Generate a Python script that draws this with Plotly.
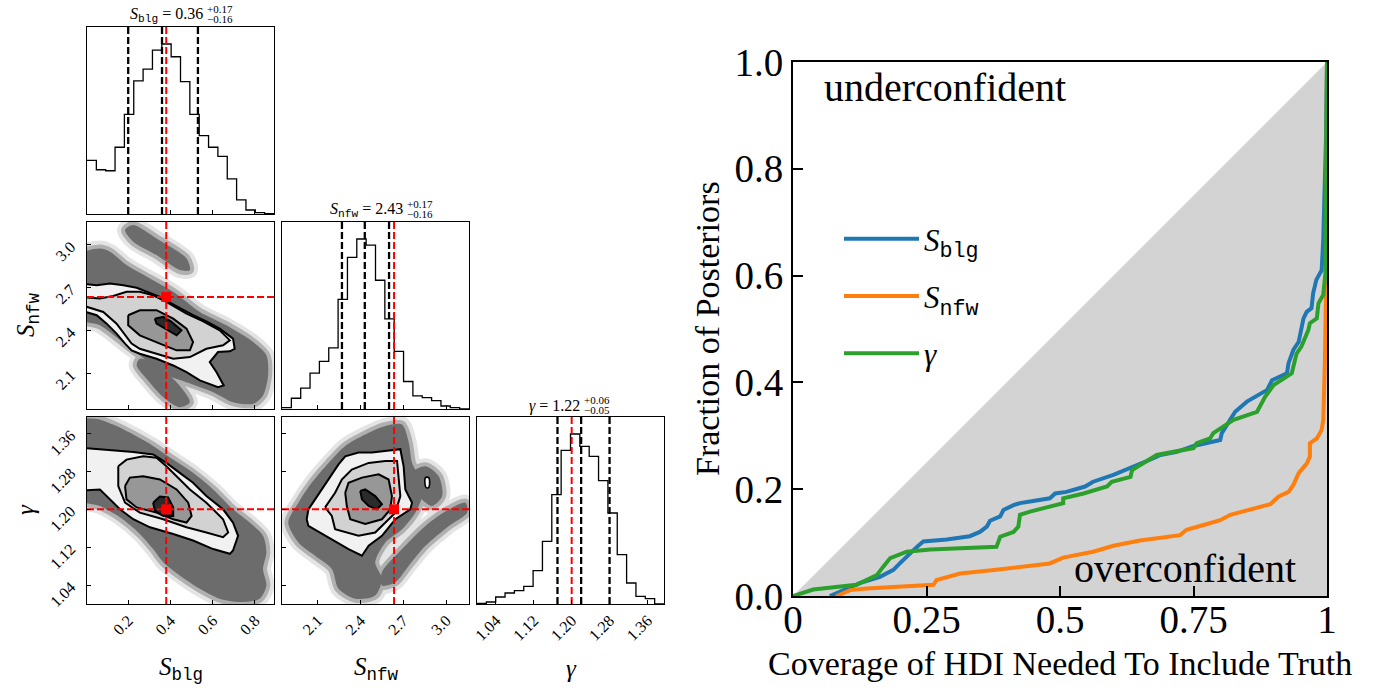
import numpy as np
import plotly.graph_objects as go

W, H = 1385, 690
OFF = 0
SERIF = "Liberation Serif"
MONO = "Liberation Mono"

# ---------------- corner plot data ----------------
RANGE_BLG = [0.005, 0.89]
RANGE_NFW = [1.85, 3.16]
RANGE_GAM = [1.0, 1.395]

ticks_blg = [0.2, 0.4, 0.6, 0.8]
ticks_nfw = [2.1, 2.4, 2.7, 3.0]
ticks_gam = [1.04, 1.12, 1.20, 1.28, 1.36]

hist_blg = [160, 132, 129, 199, 297, 397, 432, 489, 507, 469, 395, 297, 234, 199, 172, 105, 42, 12, 4, 1]
hist_nfw = [4, 32, 62, 107, 142, 182, 327, 452, 507, 489, 384, 269, 172, 82, 39, 34, 25, 9, 4, 0]
hist_gam = [2, 6, 21, 33, 40, 53, 100, 188, 328, 461, 510, 473, 443, 370, 273, 148, 63, 23, 16, 0]

q_blg = [0.20, 0.36, 0.53]
q_nfw = [2.27, 2.43, 2.60]
q_gam = [1.17, 1.22, 1.28]

truth_blg = 0.38
truth_nfw = 2.635
truth_gam = 1.20

# 2D panel: S_blg vs S_nfw (sample clouds and credible contours)
cloudB_top_x = [0.185, 0.224, 0.334, 0.476, 0.492, 0.444, 0.334, 0.224]
cloudB_top_y = [3.104, 3.139, 3.045, 2.905, 2.823, 2.823, 2.928, 3.022]
cloudB_main_x = [-0.03, 0.066, 0.114, 0.192, 0.303, 0.413, 0.539, 0.665, 0.791, 0.854, 0.862, 0.838, 0.791,
                 0.696, 0.602, 0.476, 0.350, 0.255, 0.192, 0.066, -0.03]
cloudB_main_y = [2.928, 2.975, 2.952, 2.858, 2.764, 2.671, 2.530, 2.436, 2.319, 2.226, 2.085, 1.945, 1.886,
                 1.898, 1.968, 2.038, 2.108, 2.226, 2.296, 2.436, 2.483]
cloudB_low_x = [0.255, 0.334, 0.429, 0.492, 0.444, 0.366, 0.287, 0.240]
cloudB_low_y = [2.202, 2.155, 2.038, 1.898, 1.863, 1.933, 2.062, 2.155]

levB1_x = [-0.03, 0.051, 0.114, 0.177, 0.240, 0.295, 0.350, 0.397, 0.452, 0.507, 0.570, 0.633, 0.696, 0.704,
           0.681, 0.625, 0.586, 0.618, 0.652, 0.625, 0.539, 0.476, 0.413, 0.334, 0.255, 0.216, 0.185, 0.145,
           0.098, 0.051, -0.03]
levB1_y = [2.729, 2.717, 2.729, 2.717, 2.699, 2.666, 2.635, 2.596, 2.549, 2.507, 2.464, 2.413, 2.343, 2.272,
           2.254, 2.249, 2.179, 2.108, 2.015, 2.003, 2.050, 2.108, 2.155, 2.202, 2.237, 2.261, 2.308, 2.378,
           2.448, 2.507, 2.542]
levB2_x = [-0.03, 0.066, 0.129, 0.192, 0.255, 0.318, 0.366, 0.413, 0.476, 0.555, 0.633, 0.681, 0.649, 0.570,
           0.492, 0.413, 0.334, 0.255, 0.216, 0.185, 0.145, 0.082, -0.03]
levB2_y = [2.635, 2.624, 2.642, 2.671, 2.671, 2.647, 2.612, 2.572, 2.518, 2.464, 2.401, 2.331, 2.296, 2.272,
           2.214, 2.202, 2.237, 2.272, 2.308, 2.366, 2.448, 2.530, 2.582]
levB3_x = [0.200, 0.255, 0.334, 0.413, 0.476, 0.507, 0.492, 0.429, 0.350, 0.255, 0.200]
levB3_y = [2.507, 2.542, 2.542, 2.483, 2.413, 2.319, 2.261, 2.261, 2.308, 2.366, 2.436]
levB4_x = [0.326, 0.366, 0.405, 0.452, 0.429, 0.389, 0.334]
levB4_y = [2.483, 2.495, 2.460, 2.401, 2.366, 2.401, 2.448]

# 2D panel: S_blg vs gamma
cloudD_x = [-0.03, 0.051, 0.129, 0.224, 0.318, 0.413, 0.507, 0.602, 0.696, 0.775, 0.838, 0.854, 0.838, 0.854,
            0.822, 0.728, 0.633, 0.539, 0.444, 0.366, 0.318, 0.255, 0.161, 0.066, -0.03]
cloudD_y = [1.386, 1.391, 1.379, 1.358, 1.334, 1.305, 1.277, 1.242, 1.200, 1.172, 1.144, 1.109, 1.074, 1.039,
            1.011, 1.004, 1.011, 1.032, 1.060, 1.088, 1.116, 1.148, 1.183, 1.207, 1.221]
levD1_x = [-0.03, 0.066, 0.145, 0.224, 0.318, 0.381, 0.444, 0.507, 0.570, 0.649, 0.696, 0.720, 0.696, 0.681,
           0.602, 0.507, 0.413, 0.303, 0.224, 0.161, 0.114, 0.066, -0.03]
levD1_y = [1.330, 1.327, 1.323, 1.321, 1.316, 1.298, 1.277, 1.256, 1.228, 1.200, 1.172, 1.144, 1.113, 1.106,
           1.116, 1.134, 1.148, 1.162, 1.179, 1.200, 1.221, 1.242, 1.239]
levD2_x = [0.153, 0.192, 0.271, 0.334, 0.381, 0.429, 0.492, 0.570, 0.649, 0.673, 0.649, 0.570, 0.476, 0.366,
           0.255, 0.185, 0.153]
levD2_y = [1.291, 1.305, 1.312, 1.309, 1.291, 1.270, 1.242, 1.214, 1.179, 1.151, 1.141, 1.151, 1.162, 1.179,
           1.193, 1.214, 1.249]
levD3_x = [0.185, 0.208, 0.271, 0.350, 0.429, 0.484, 0.500, 0.476, 0.413, 0.334, 0.240, 0.192]
levD3_y = [1.249, 1.267, 1.270, 1.263, 1.242, 1.214, 1.186, 1.172, 1.179, 1.193, 1.204, 1.221]
levD4_x = [0.318, 0.350, 0.389, 0.413, 0.413, 0.366, 0.326]
levD4_y = [1.214, 1.227, 1.225, 1.204, 1.186, 1.186, 1.197]

# 2D panel: S_nfw vs gamma
cloudE_main_x = [1.894, 1.965, 2.058, 2.176, 2.293, 2.433, 2.574, 2.691, 2.738, 2.761, 2.808, 2.831, 2.784,
                 2.691, 2.574, 2.503, 2.550, 2.503, 2.363, 2.246, 2.199, 2.082, 1.965]
cloudE_main_y = [1.172, 1.214, 1.256, 1.298, 1.334, 1.358, 1.376, 1.379, 1.341, 1.298, 1.270, 1.228, 1.193,
                 1.158, 1.130, 1.088, 1.053, 1.018, 1.011, 1.032, 1.074, 1.102, 1.130]
cloudE_r1_x = [2.761, 2.855, 2.948, 2.972, 2.902, 2.808]
cloudE_r1_y = [1.277, 1.291, 1.270, 1.228, 1.207, 1.228]
cloudE_r2_x = [2.550, 2.691, 2.855, 3.019, 3.136, 3.147, 3.019, 2.855, 2.738, 2.644, 2.550]
cloudE_r2_y = [1.067, 1.116, 1.165, 1.200, 1.214, 1.193, 1.165, 1.123, 1.081, 1.046, 1.039]
levE1_x = [2.035, 2.129, 2.246, 2.293, 2.386, 2.480, 2.574, 2.679, 2.702, 2.714, 2.761, 2.749, 2.644, 2.550,
           2.457, 2.410, 2.316, 2.152, 2.035, 2.023]
levE1_y = [1.200, 1.242, 1.295, 1.312, 1.320, 1.320, 1.323, 1.327, 1.291, 1.242, 1.214, 1.200, 1.179, 1.144,
           1.123, 1.102, 1.116, 1.144, 1.165, 1.179]
levE2_x = [2.152, 2.222, 2.269, 2.339, 2.457, 2.574, 2.656, 2.667, 2.679, 2.644, 2.574, 2.503, 2.386, 2.222, 2.199]
levE2_y = [1.204, 1.235, 1.263, 1.284, 1.298, 1.302, 1.302, 1.270, 1.228, 1.193, 1.172, 1.151, 1.144, 1.158, 1.186]
levE3_x = [2.293, 2.316, 2.410, 2.527, 2.597, 2.620, 2.609, 2.550, 2.433, 2.328, 2.304]
levE3_y = [1.235, 1.256, 1.267, 1.274, 1.263, 1.228, 1.200, 1.179, 1.169, 1.179, 1.207]
levE4_x = [2.398, 2.433, 2.503, 2.550, 2.515, 2.457, 2.410]
levE4_y = [1.239, 1.242, 1.228, 1.211, 1.200, 1.207, 1.221]
islandE_x = [2.855, 2.878, 2.878, 2.859]
islandE_y = [1.267, 1.267, 1.246, 1.246]

# ---------------- coverage plot data ----------------
cov_ticks_x = [0, 0.25, 0.5, 0.75, 1]
cov_ticktext_x = ["0", "0.25", "0.5", "0.75", "1"]
cov_ticks_y = [0, 0.2, 0.4, 0.6, 0.8, 1.0]

blg_x = [0.069, 0.088, 0.125, 0.163, 0.188, 0.200, 0.213, 0.232, 0.244, 0.288, 0.331, 0.350, 0.363, 0.369,
         0.388, 0.394, 0.413, 0.425, 0.444, 0.481, 0.491, 0.512, 0.547, 0.562, 0.600, 0.638, 0.675, 0.688,
         0.719, 0.750, 0.800, 0.803, 0.828, 0.850, 0.869, 0.888, 0.897, 0.925, 0.928, 0.937, 0.947, 0.956,
         0.962, 0.971, 0.974, 0.980, 0.990, 0.993, 0.995, 0.998, 1.000]
blg_y = [0.000, 0.008, 0.024, 0.036, 0.049, 0.061, 0.074, 0.092, 0.102, 0.106, 0.112, 0.120, 0.130, 0.141,
         0.149, 0.161, 0.170, 0.174, 0.177, 0.183, 0.192, 0.195, 0.205, 0.214, 0.227, 0.242, 0.258, 0.264,
         0.270, 0.281, 0.292, 0.305, 0.345, 0.364, 0.376, 0.386, 0.404, 0.417, 0.436, 0.461, 0.476, 0.520,
         0.532, 0.539, 0.567, 0.592, 0.610, 0.667, 0.742, 0.850, 1.000]
nfw_x = [0.082, 0.107, 0.138, 0.263, 0.269, 0.288, 0.313, 0.381, 0.425, 0.481, 0.506, 0.562, 0.600, 0.650,
         0.725, 0.737, 0.769, 0.800, 0.819, 0.850, 0.894, 0.909, 0.928, 0.937, 0.947, 0.962, 0.968, 0.968,
         0.981, 0.990, 0.993, 0.996, 0.998, 1.000]
nfw_y = [0.000, 0.011, 0.014, 0.021, 0.030, 0.036, 0.042, 0.049, 0.055, 0.061, 0.072, 0.083, 0.094, 0.104,
         0.114, 0.124, 0.133, 0.142, 0.152, 0.161, 0.172, 0.186, 0.195, 0.208, 0.230, 0.248, 0.261, 0.286,
         0.295, 0.311, 0.330, 0.436, 0.560, 1.000]
gam_x = [0.000, 0.038, 0.119, 0.157, 0.169, 0.182, 0.213, 0.257, 0.381, 0.388, 0.413, 0.422, 0.425, 0.444,
         0.506, 0.506, 0.544, 0.588, 0.597, 0.632, 0.635, 0.656, 0.681, 0.750, 0.756, 0.781, 0.787, 0.825,
         0.869, 0.884, 0.900, 0.934, 0.940, 0.943, 0.952, 0.965, 0.968, 0.981, 0.984, 0.993, 0.997, 1.000]
gam_y = [0.000, 0.012, 0.021, 0.039, 0.055, 0.071, 0.083, 0.087, 0.092, 0.111, 0.120, 0.130, 0.152, 0.158,
         0.174, 0.183, 0.192, 0.205, 0.214, 0.223, 0.236, 0.248, 0.264, 0.277, 0.286, 0.295, 0.305, 0.330,
         0.345, 0.373, 0.395, 0.417, 0.442, 0.454, 0.467, 0.498, 0.511, 0.520, 0.548, 0.564, 0.604, 1.000]

# ---------------- figure ----------------
fig = go.Figure()


def sym(sub):
    return f'<i>S</i><sub><span style="font-family:{MONO}">{sub}</span></sub>'


def trace(x, y, ax, ay, **kw):
    fig.add_trace(go.Scatter(x=list(x), y=list(y), xaxis=ax, yaxis=ay, showlegend=False,
                             hoverinfo='skip', **kw))


def closed(xs, ys):
    return list(xs) + [xs[0]], list(ys) + [ys[0]]


DASH = '7px,3px'


def add_hist(counts, rng, quants, truth, ax, ay):
    edges = np.linspace(rng[0], rng[1], len(counts) + 1)
    top = 1.1 * max(counts)
    trace(edges, list(counts) + [counts[-1]], ax, ay, mode='lines',
          line=dict(color='black', width=1.3, shape='hv'))
    for q in quants:
        trace([q, q], [0, top], ax, ay, mode='lines', line=dict(color='black', width=2.3, dash=DASH))
    trace([truth, truth], [0, top], ax, ay, mode='lines', line=dict(color='red', width=2, dash=DASH))


LEVEL_FILLS = ['#f1f1f1', '#d2d2d2', '#979797', '#2b2b2b']


def add_2d(clouds, levels, tx, ty, xr, yr, ax, ay, islands=()):
    for width, col in [(16, '#e4e4e4'), (8, '#b0b0b0')]:
        for cx, cy in clouds:
            x, y = closed(cx, cy)
            trace(x, y, ax, ay, mode='lines', line=dict(color=col, width=width, shape='spline', smoothing=0.8))
    for cx, cy in clouds:
        x, y = closed(cx, cy)
        trace(x, y, ax, ay, mode='lines', fill='toself', fillcolor='#6c6c6c',
              line=dict(width=0, shape='spline', smoothing=0.8))
    for (lx, ly), fc in zip(levels, LEVEL_FILLS):
        x, y = closed(lx, ly)
        trace(x, y, ax, ay, mode='lines', fill='toself', fillcolor=fc, line=dict(color='black', width=2))
    for ix, iy in islands:
        x, y = closed(ix, iy)
        trace(x, y, ax, ay, mode='lines', fill='toself', fillcolor='white',
              line=dict(color='black', width=1.6, shape='spline'))
    trace([tx, tx], yr, ax, ay, mode='lines', line=dict(color='red', width=2, dash=DASH))
    trace(xr, [ty, ty], ax, ay, mode='lines', line=dict(color='red', width=2, dash=DASH))
    trace([tx], [ty], ax, ay, mode='markers', marker=dict(symbol='square', size=10, color='red'))


add_hist(hist_blg, RANGE_BLG, q_blg, truth_blg, 'x', 'y')
add_2d([(cloudB_main_x, cloudB_main_y), (cloudB_top_x, cloudB_top_y), (cloudB_low_x, cloudB_low_y)],
       [(levB1_x, levB1_y), (levB2_x, levB2_y), (levB3_x, levB3_y), (levB4_x, levB4_y)],
       truth_blg, truth_nfw, RANGE_BLG, RANGE_NFW, 'x2', 'y2')
add_hist(hist_nfw, RANGE_NFW, q_nfw, truth_nfw, 'x3', 'y3')
add_2d([(cloudD_x, cloudD_y)],
       [(levD1_x, levD1_y), (levD2_x, levD2_y), (levD3_x, levD3_y), (levD4_x, levD4_y)],
       truth_blg, truth_gam, RANGE_BLG, RANGE_GAM, 'x4', 'y4')
add_2d([(cloudE_main_x, cloudE_main_y), (cloudE_r1_x, cloudE_r1_y), (cloudE_r2_x, cloudE_r2_y)],
       [(levE1_x, levE1_y), (levE2_x, levE2_y), (levE3_x, levE3_y), (levE4_x, levE4_y)],
       truth_nfw, truth_gam, RANGE_NFW, RANGE_GAM, 'x5', 'y5', islands=[(islandE_x, islandE_y)])
add_hist(hist_gam, RANGE_GAM, q_gam, truth_gam, 'x6', 'y6')

# coverage plot
trace([0, 1, 1, 0], [0, 1, 0, 0], 'x7', 'y7', mode='lines', fill='toself', fillcolor='#d3d3d3',
      line=dict(width=0))
for xs, ys, col, name, grp in [(blg_x, blg_y, '#1f77b4', sym('blg'), 'a'),
                               (nfw_x, nfw_y, '#ff7f0e', sym('nfw'), 'b'),
                               (gam_x, gam_y, '#2ca02c', '<i>γ</i>', 'c')]:
    fig.add_trace(go.Scatter(x=xs, y=ys, xaxis='x7', yaxis='y7', mode='lines', name=name,
                             legendgroup=grp, line=dict(color=col, width=4), hoverinfo='skip'))

# ---------------- layout ----------------
COLS = [87, 282, 477]
ROWS = [27, 222, 417]
SIZE = 187


def fx(px):
    return (px - OFF) / W


def fy(py):
    return 1 - (py - OFF) / H


def xdom(c):
    return [fx(COLS[c]), fx(COLS[c] + SIZE)]


def ydom(r):
    return [fy(ROWS[r] + SIZE), fy(ROWS[r])]


base = dict(showline=True, linecolor='black', linewidth=1, mirror=True, showgrid=False, zeroline=False,
            ticks='inside', ticklen=4, tickwidth=1, tickcolor='black', automargin=False,
            tickfont=dict(family=SERIF, size=16, color='black'))


def fmt(vals, nd):
    return [f"{v:.{nd}f}" for v in vals]


spec = [
    ('', 0, 0, RANGE_BLG, [0, 1.1 * max(hist_blg)], ticks_blg, 1, False, None, 0, False),
    ('2', 0, 1, RANGE_BLG, RANGE_NFW, ticks_blg, 1, False, ticks_nfw, 1, True),
    ('3', 1, 1, RANGE_NFW, [0, 1.1 * max(hist_nfw)], ticks_nfw, 1, False, None, 0, False),
    ('4', 0, 2, RANGE_BLG, RANGE_GAM, ticks_blg, 1, True, ticks_gam, 2, True),
    ('5', 1, 2, RANGE_NFW, RANGE_GAM, ticks_nfw, 1, True, ticks_gam, 2, False),
    ('6', 2, 2, RANGE_GAM, [0, 1.1 * max(hist_gam)], ticks_gam, 2, True, None, 0, False),
]
layout_axes = {}
for n, c, r, xr, yr, xt, xnd, xl, yt, ynd, yl in spec:
    layout_axes['xaxis' + n] = dict(base, domain=xdom(c), anchor='y' + n, range=xr, tickvals=xt,
                                    ticktext=fmt(xt, xnd), showticklabels=xl, tickangle=-45)
    if yt is None:
        layout_axes['yaxis' + n] = dict(base, domain=ydom(r), anchor='x' + n, range=yr, ticks='',
                                        showticklabels=False)
    else:
        layout_axes['yaxis' + n] = dict(base, domain=ydom(r), anchor='x' + n, range=yr, tickvals=yt,
                                        ticktext=fmt(yt, ynd), showticklabels=yl, tickangle=-45,
                                        ticklabelstandoff=12)

big = dict(showline=True, linecolor='black', linewidth=2, mirror=True, showgrid=False, zeroline=False,
           ticks='inside', ticklen=10, tickwidth=1.5, tickcolor='black', automargin=False,
           tickfont=dict(family=SERIF, size=39, color='black'))
layout_axes['xaxis7'] = dict(big, domain=[fx(793), fx(1327)], anchor='y7', range=[0, 1],
                             tickvals=cov_ticks_x, ticktext=cov_ticktext_x, ticklabelstandoff=-12)
layout_axes['yaxis7'] = dict(big, domain=[fy(596), fy(62)], anchor='x7', range=[0, 1],
                             tickvals=cov_ticks_y, ticktext=fmt(cov_ticks_y, 1))


def pa(xp, yp, text, size, xanchor='center', **kw):
    d = dict(x=fx(xp), y=fy(yp), xref='paper', yref='paper', text=text, showarrow=False,
             xanchor=xanchor, yanchor='middle', font=dict(family=SERIF, size=size, color='black'))
    d.update(kw)
    return d


annotations = [
    # corner axis labels
    pa(181, 669, sym('blg'), 25),
    pa(376, 669, sym('nfw'), 25),
    pa(571, 668, '<i>γ</i>', 25),
    pa(28, 315, sym('nfw'), 25, textangle=-90),
    pa(26, 510, '<i>γ</i>', 25, textangle=-90),
    # histogram titles
    pa(205, 15, sym('blg') + ' = 0.36', 16, xanchor='right'),
    pa(205, 9, '+0.17', 11, xanchor='left'),
    pa(205, 19, '−0.16', 11, xanchor='left'),
    pa(405, 210, sym('nfw') + ' = 2.43', 16, xanchor='right'),
    pa(405, 204, '+0.17', 11, xanchor='left'),
    pa(405, 214, '−0.16', 11, xanchor='left'),
    pa(582, 406, '<i>γ</i> = 1.22', 16, xanchor='right'),
    pa(582, 400, '+0.06', 11, xanchor='left'),
    pa(582, 410, '−0.05', 11, xanchor='left'),
    # coverage plot texts
    pa(707, 329, 'Fraction of Posteriors', 34, textangle=-90),
    pa(1060, 663, 'Coverage of HDI Needed To Include Truth', 34),
    dict(x=0.054, y=0.953, xref='x7', yref='y7', text='underconfident', showarrow=False, xanchor='left',
         yanchor='middle', font=dict(family=SERIF, size=40, color='black')),
    dict(x=0.946, y=0.052, xref='x7', yref='y7', text='overconfident', showarrow=False, xanchor='right',
         yanchor='middle', font=dict(family=SERIF, size=40, color='black')),
]

fig.update_layout(
    width=W, height=H, autosize=False,
    margin=dict(l=0, r=0, t=0, b=0, pad=0, autoexpand=False),
    paper_bgcolor='white', plot_bgcolor='white',
    showlegend=True,
    legend=dict(x=fx(839), y=fy(212), xanchor='left', yanchor='top', bgcolor='rgba(0,0,0,0)',
                font=dict(family=SERIF, size=31, color='black'), tracegroupgap=14, itemwidth=75),
    annotations=annotations,
    **layout_axes,
)

fig.write_html("out.html", config={'displayModeBar': False},
               post_script="document.body.style.margin='0px';")
